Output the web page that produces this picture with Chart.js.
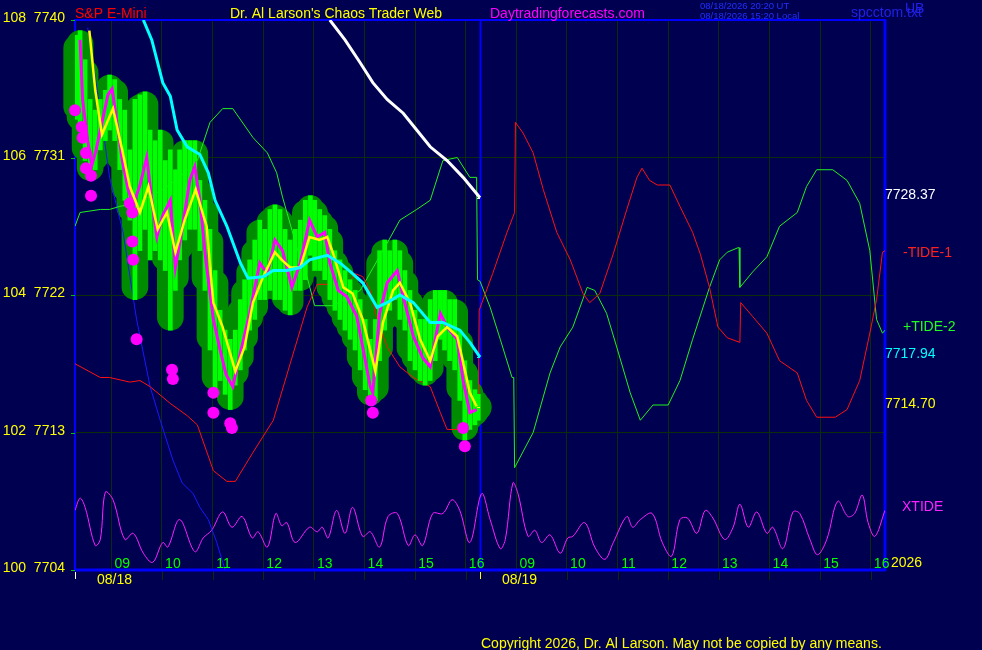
<!DOCTYPE html>
<html>
<head>
<meta charset="utf-8">
<title>S&amp;P E-Mini</title>
<script src="https://cdn.jsdelivr.net/npm/chart.js@4.4.0/dist/chart.umd.min.js"></script>
<style>
  html, body { margin: 0; padding: 0; background: #000050; }
  canvas { display: block; }
</style>
</head>
<body>
<canvas id="myChart" width="982" height="650" style="width:982px;height:650px"></canvas>
<script>
// x values are minutes from the 08:17 session open of 08/18 (second session starts at 480)
const hourLabels = ['09', '10', '11', '12', '13', '14', '15', '16'];
const dayLabels = ['08/18', '08/19'];
const indexLabels = ['100', '102', '104', '106', '108'];
const priceLevels = [7704, 7713, 7722, 7731, 7740];

// high / low bars of the first session
const barTime = [2,6,12,18,24,30,36,41,47,53, 59,65,71,77,83,89,95,101,107,113,
  119,124,130,136,142,148,154,160,166,172, 178,184,190,196,201,207,213,219,225,231,
  237,243,249,255,261,267,273,279,284,290, 296,302,308,314,320,326,332,338,344,350,
  356,361,367,373,379,385,391,397,403,409, 415,421,427,433,438,444,450,456,462,468, 474,478];
const barHigh = [7739.0,7739.3,7737.4,7734.8,7734.1,7734.8,7735.4,7736.4,7736.1,7734.8,
  7734.1,7731.5,7734.8,7735.1,7735.3,7732.8,7732.1,7732.8,7730.8,7731.5,
  7730.2,7731.5,7732.1,7732.1,7732.1,7729.5,7728.2,7726.3,7723.6,7721.0,
  7719.7,7719.1,7719.7,7721.7,7723.0,7724.3,7725.6,7726.9,7726.3,7727.6,
  7727.9,7727.6,7726.3,7725.6,7726.3,7726.9,7728.2,7728.5,7728.2,7727.6,
  7727.2,7726.3,7724.9,7724.3,7723.6,7723.0,7722.3,7721.7,7720.4,7719.1,
  7720.4,7724.9,7725.6,7724.9,7725.6,7724.9,7723.6,7722.3,7721.0,7720.4,
  7720.4,7721.7,7722.3,7722.3,7722.3,7721.7,7721.7,7719.7,7717.7,7716.4, 7715.8,7715.5];
const barLow = [7733.5,7732.8,7730.8,7729.5,7730.2,7731.5,7732.1,7732.8,7732.1,7730.2,
  7728.2,7726.9,7721.7,7724.9,7726.3,7724.3,7724.9,7724.3,7723.6,7719.7,
  7722.3,7724.3,7725.6,7726.3,7726.3,7724.9,7722.3,7718.4,7715.8,7716.4,
  7715.5,7714.5,7716.1,7717.1,7718.4,7719.7,7720.4,7721.7,7721.7,7722.3,
  7721.7,7721.7,7721.0,7720.7,7722.3,7722.3,7723.0,7724.6,7723.6,7723.6,
  7723.0,7721.7,7721.0,7720.4,7719.7,7719.1,7718.4,7717.1,7715.8,7714.8,
  7715.1,7717.7,7719.7,7721.0,7721.7,7720.4,7719.7,7717.7,7717.1,7716.4,
  7716.1,7716.4,7717.7,7719.1,7718.4,7717.7,7717.1,7715.1,7712.5,7713.2, 7713.5,7713.8];

// closing price
const closeTime = [6,9,15,20,25,30,34,39,44,51, 56,63,69,77,85,91,97,104,113,119,
  127,136,142,148,155,164,172,179,187,196, 207,219,228,237,246,257,267,278,287,296,
  302,312,322,334,341,350,353,361,370,382, 389,401,412,421,427,433,441,453,460,468, 476];
const closePrice = [7738.7,7734.8,7732.1,7730.5,7731.5,7732.8,7733.8,7735.1,7735.5,7732.8,
  7730.8,7728.9,7727.9,7729.2,7731.0,7728.2,7725.8,7727.2,7728.2,7723.8,
  7726.3,7729.5,7730.4,7728.2,7724.3,7720.4,7718.4,7716.8,7716.0,7718.2,
  7720.8,7724.1,7723.4,7725.6,7724.9,7722.5,7724.1,7726.9,7725.8,7726.1,
  7724.1,7722.3,7721.9,7720.6,7718.6,7716.0,7715.6,7720.8,7722.8,7723.6,
  7721.9,7719.3,7717.9,7717.3,7719.1,7720.8,7719.9,7719.1,7716.4,7714.3, 7714.5];

// fast average (yellow)
const fastTime = [17,24,32,45,56,65,77,87,98,109, 119,130,143,156,164,175,190,201,211,223,
  237,245,255,267,278,290,299,306,318,329, 341,356,365,377,385,397,409,421,430,441, 453,460,468,476];
const fastPrice = [7739.3,7735.4,7732.5,7734.2,7731.5,7729.1,7727.4,7729.1,7726.3,7727.4,
  7724.8,7726.9,7728.9,7726.5,7721.5,7719.9,7717.0,7718.6,7721.5,7723.2,
  7724.8,7724.3,7723.8,7723.8,7725.8,7725.6,7725.8,7724.7,7722.5,7722.1,
  7720.4,7717.0,7720.2,7722.3,7722.8,7721.5,7719.1,7717.7,7719.3,7719.9, 7719.3,7717.6,7715.6,7714.7];

// slow average (cyan)
const slowTime = [81,91,104,113,121,133,148,158,166,180, 196,205,223,235,251,267,278,299,314,329,
  341,358,370,385,401,421,436,456,468,480];
const slowPrice = [7740.0,7738.7,7735.9,7735.0,7732.8,7731.7,7731.2,7730.0,7728.2,7726.5,
  7724.1,7723.1,7723.2,7723.6,7723.6,7723.8,7724.3,7724.6,7724.1,7723.4,
  7722.8,7721.2,7721.5,7722.0,7721.5,7720.2,7720.2,7719.7,7718.9,7717.94];

// white line
const whiteTime = [302,320,338,353,370,389,405,421,441,460,480];
const whitePrice = [7740.0,7738.7,7737.2,7735.9,7734.8,7733.9,7732.8,7731.7,7730.8,7729.7,7728.37];

// +TIDE-2 (green)
const tide2Time = [0,6,30,41,53,73,104,124,145,160, 175,187,211,228,239,246,263,275,284,306,
  338,370,385,405,421,436,453,468,476,477, 480,492,504,518,520,521,543,563,575,590,
  607,616,630,642,658,670,685,703,717,732, 752,764,773,786,787,788,803,820,835,856,
  867,879,898,915,930,942,950,957,960];
const tide2Price = [7726.5,7727.4,7727.6,7727.6,7727.8,7728.0,7728.9,7729.7,7730.8,7733.3,
  7734.2,7734.2,7732.3,7731.3,7730.0,7728.4,7725.1,7723.2,7721.3,7721.3,
  7722.3,7725.4,7726.9,7727.6,7728.2,7730.8,7731.0,7729.7,7729.7,7723.0,
  7722.9,7721.2,7719.1,7716.6,7716.6,7710.7,7713.0,7716.9,7718.6,7719.9,
  7722.5,7722.3,7720.8,7718.6,7715.6,7713.8,7714.8,7714.8,7716.4,7719.1,
  7722.5,7724.3,7724.8,7725.1,7725.1,7722.5,7723.5,7724.5,7726.5,7727.4,
  7729.1,7730.2,7730.2,7729.5,7728.0,7724.9,7720.4,7719.5,7719.7];

// -TIDE-1 (red)
const tide1Time = [0,30,41,65,77,89,113,133,145,164, 180,190,211,235,255,275,287,324,332,341,
  350,358,370,385,401,421,433,441,453,468, 478,479,495,512,521,522,531,543,555,571,
  587,602,610,622,638,654,666,672,681,690, 705,717,732,741,752,762,773,788,789,803,
  820,835,856,867,879,901,915,930,942,950, 957,960];
const tide1Price = [7717.5,7716.6,7716.6,7716.3,7716.4,7716.0,7714.9,7714.1,7713.5,7710.5,
  7709.8,7709.8,7711.7,7713.8,7717.5,7721.2,7722.7,7722.7,7723.4,7723.2,
  7722.3,7720.4,7718.6,7717.3,7716.6,7716.0,7714.3,7713.2,7713.2,7714.3,
  7714.5,7721.0,7723.4,7726.1,7727.4,7733.3,7732.6,7731.3,7728.9,7726.1,
  7724.3,7722.1,7721.5,7722.1,7724.7,7727.6,7729.7,7730.3,7729.5,7729.2,
  7729.2,7727.8,7726.1,7724.7,7722.5,7719.9,7719.2,7718.9,7721.5,7720.6,
  7719.5,7717.7,7716.9,7715.1,7714.0,7714.0,7714.5,7716.4,7719.5,7721.7, 7724.8,7724.9];

// blue line
const blueTime = [15,30,41,57,73,89,101,116,127,140,148,158,168,174,178];
const bluePrice = [7739.5,7734.1,7729.7,7726.1,7720.4,7716.0,7713.8,7711.2,7709.7,7709.0,7708.1,7707.3,7705.8,7704.7,7704.0];

// XTIDE (magenta, bottom)
const xtideTime = [0,6,12,24,30,36,45,59,69,81, 92,104,110,124,142,152,162,175,186,198,
  210,217,228,238,245,251,261,278,287,293, 300,310,320,329,341,350,361,371,382,395,
  403,412,424,436,447,456,468,482,492,504, 510,519,525,537,545,553,563,575,584,590,
  604,616,628,638,654,661,670,684,696,707, 717,726,737,747,756,770,780,788,798,808,
  820,827,839,851,859,871,880,891,904,916, 924,933,940,948,960];
const xtidePrice = [7707.9,7708.7,7708.1,7705.6,7706.0,7709.1,7708.6,7706.0,7706.4,7705.1,
  7704.5,7705.8,7705.5,7707.3,7705.2,7706.1,7706.6,7707.8,7706.8,7707.5,
  7706.1,7706.5,7705.5,7707.7,7706.9,7707.1,7705.8,7706.8,7706.5,7706.8,
  7706.1,7707.9,7706.4,7708.1,7706.2,7706.5,7705.5,7707.5,7707.7,7705.6,
  7706.3,7705.6,7707.7,7707.7,7708.6,7707.9,7705.8,7709.0,7707.3,7705.4,
  7706.0,7709.7,7709.0,7706.2,7706.6,7705.8,7706.3,7705.1,7706.1,7706.2,
  7707.1,7705.5,7704.7,7705.8,7707.5,7706.8,7707.3,7707.7,7705.8,7704.9,
  7707.3,7707.4,7706.4,7707.9,7707.4,7706.0,7706.8,7708.3,7706.8,7707.8,
  7706.4,7706.8,7705.4,7707.8,7707.7,7706.0,7705.0,7706.0,7708.5,7707.5,
  7707.7,7708.9,7707.1,7706.2,7707.9];

// magenta low markers
const dotTime = [0,8,9,13,13,19,19,65,68,68,69,73,115,116,164,164,184,186,351,353,460,462];
const dotPrice = [7734.1,7733.0,7732.3,7731.3,7730.3,7729.8,7728.5,7728.0,7727.4,7725.5,7724.3,
  7719.1,7717.1,7716.5,7715.6,7714.3,7713.6,7713.3,7715.1,7714.3,7713.3,7712.1];

// price readouts at the right
const readoutValues = [7728.37, 7717.94, 7714.70];
const readoutColors = ['#ffffff', '#00ffff', '#ffff00'];

const SESSION = 480;      // minutes per session
const FIRST_HOUR = 43;    // 09:00 is 43 minutes after the open
const gridTimes = [];
[0, 1].forEach(d => hourLabels.forEach((h, i) => gridTimes.push(d * SESSION + FIRST_HOUR + 60 * i)));

const pts = (xs, ys) => xs.map((x, i) => ({x: x, y: ys[i]}));
const bars = barTime.map((t, i) => ({x: t, y: [barLow[i], barHigh[i]]}));

const GRID = '#0a2c0a';
const FONT = '14px "Liberation Sans", Arial, sans-serif';

function lineSet(data, color, width, order, extra) {
    return Object.assign({
        type: 'line', data: data, borderColor: color, borderWidth: width,
        pointRadius: 0, tension: 0, order: order
    }, extra || {});
}

const overlay = {
    id: 'overlay',
    beforeDatasetsDraw(chart) {
        const {ctx, chartArea: a, scales: {x}} = chart;
        ctx.save();
        // grid stubs under the frame
        ctx.strokeStyle = GRID;
        ctx.lineWidth = 1;
        gridTimes.forEach(t => {
            const px = Math.round(x.getPixelForValue(t)) + 0.5;
            ctx.beginPath(); ctx.moveTo(px, a.bottom); ctx.lineTo(px, a.bottom + 10); ctx.stroke();
        });
        // frame
        ctx.strokeStyle = '#0000ff';
        ctx.lineWidth = 2;
        ctx.strokeRect(a.left, a.top, a.right - a.left, a.bottom - a.top);
        ctx.lineWidth = 3;
        ctx.beginPath(); ctx.moveTo(a.right, a.top); ctx.lineTo(a.right, a.bottom + 1); ctx.stroke();
        ctx.beginPath(); ctx.moveTo(a.left, a.bottom); ctx.lineTo(a.right, a.bottom); ctx.stroke();
        // session divider
        const dx = Math.round(x.getPixelForValue(SESSION)) + 0.5;
        ctx.lineWidth = 2;
        ctx.beginPath(); ctx.moveTo(dx, a.top); ctx.lineTo(dx, a.bottom); ctx.stroke();
        ctx.restore();
    },
    afterDraw(chart) {
        const {ctx, chartArea: a, scales: {x, y}} = chart;
        ctx.save();
        ctx.font = FONT;
        ctx.textBaseline = 'alphabetic';

        // left axis: index and price
        priceLevels.forEach((p, i) => {
            const py = y.getPixelForValue(p);
            ctx.fillStyle = '#ffff00';
            ctx.textAlign = 'right';
            ctx.fillText(indexLabels[i] + '  ' + p, 65, py + 2);
            ctx.fillStyle = '#00c000';
            ctx.fillRect(a.left - 4, Math.round(py), 4, 1);
        });

        // hour labels
        ctx.textAlign = 'center';
        ctx.fillStyle = '#00ff00';
        [0, 1].forEach(d => hourLabels.forEach((h, i) => {
            const px = x.getPixelForValue(d * SESSION + FIRST_HOUR + 60 * i);
            ctx.fillText(h, px + 11, a.bottom - 2);
        }));

        // session dates and open ticks
        ctx.textAlign = 'left';
        dayLabels.forEach((lab, d) => {
            const px = x.getPixelForValue(d * SESSION);
            ctx.fillStyle = '#ffff00';
            ctx.fillText(lab, px + 22, a.bottom + 14);
            ctx.fillStyle = d ? '#ffff00' : '#ffffff';
            ctx.fillRect(Math.round(px), a.bottom + 2, 1, 7);
        });

        // readouts on the divider and at the right
        const dx = x.getPixelForValue(SESSION);
        readoutValues.forEach((v, i) => {
            const py = y.getPixelForValue(v);
            ctx.fillStyle = readoutColors[i];
            ctx.fillRect(Math.round(dx) - 3, Math.round(py), 3, 1);
            ctx.fillText(v.toFixed(2), a.right, py + 1);
        });
        ctx.fillStyle = '#ff2020';
        ctx.fillText('-TIDE-1', 903, 257);
        ctx.fillStyle = '#20ff20';
        ctx.fillText('+TIDE-2', 903, 331);
        ctx.fillStyle = '#ff20ff';
        ctx.fillText('XTIDE', 902, 511);
        ctx.fillStyle = '#ffff00';
        ctx.fillText('2026', 891, 567);

        // header
        ctx.fillStyle = '#ff0000';
        ctx.fillText('S&P E-Mini', 75, 18);
        ctx.fillStyle = '#ffff00';
        ctx.fillText("Dr. Al Larson's Chaos Trader Web", 230, 18);
        ctx.fillStyle = '#ff00ff';
        ctx.fillText('Daytradingforecasts.com', 490, 18);
        ctx.fillStyle = '#2030ff';
        ctx.font = '9.5px "Liberation Sans", Arial, sans-serif';
        ctx.fillText('08/18/2026 20:20 UT', 700, 9);
        ctx.fillText('08/18/2026 15:20 Local', 700, 19);
        ctx.font = FONT;
        ctx.fillStyle = '#2020e8';
        ctx.fillText('spcctom.txt', 851, 17);
        ctx.fillText('UB', 905, 13);

        // footer
        ctx.fillStyle = '#ffff00';
        ctx.fillText('Copyright 2026, Dr. Al Larson. May not be copied by any means.', 481, 648);
        ctx.restore();
    }
};

const ctx = document.getElementById('myChart').getContext('2d');

const chart = new Chart(ctx, {
    type: 'bar',
    data: {
        datasets: [
            // glow around the price bars
            {type: 'bar', data: bars, backgroundColor: '#008c00', barThickness: 26,
             borderRadius: 13, borderSkipped: false, grouped: false, clip: false, order: 20},
            lineSet(pts(tide1Time, tide1Price), '#ff1010', 1, 12),
            lineSet(pts(tide2Time, tide2Price), '#20f020', 1, 12),
            lineSet(pts(blueTime, bluePrice), '#1818ff', 1, 12),
            lineSet(pts(xtideTime, xtidePrice), '#ff20ff', 1, 12, {tension: 0.35}),
            // high-low bars
            {type: 'bar', data: bars, backgroundColor: '#00ff00', barThickness: 4,
             grouped: false, order: 10},
            lineSet(pts(closeTime, closePrice), '#ff00ff', 3, 8),
            lineSet(pts(dotTime, dotPrice), '#ff00ff', 0, 7,
                {showLine: false, pointRadius: 6, pointBackgroundColor: '#ff00ff',
                 pointBorderWidth: 0, clip: false}),
            lineSet(pts(fastTime, fastPrice), '#ffff00', 2.5, 6),
            lineSet(pts(slowTime, slowPrice), '#00ffff', 3, 5),
            lineSet(pts(whiteTime, whitePrice), '#ffffff', 3, 4)
        ]
    },
    options: {
        responsive: false,
        animation: false,
        layout: {padding: {left: 75, top: 20, right: 97, bottom: 80}},
        plugins: {legend: {display: false}, tooltip: {enabled: false}},
        scales: {
            x: {
                type: 'linear', min: 0, max: 2 * SESSION, offset: false,
                grid: {color: GRID, drawTicks: false, offset: false},
                border: {display: false},
                ticks: {display: false},
                afterBuildTicks: s => { s.ticks = gridTimes.map(v => ({value: v})); }
            },
            y: {
                type: 'linear', min: priceLevels[0], max: priceLevels[priceLevels.length - 1],
                beginAtZero: false,
                grid: {color: GRID, drawTicks: false},
                border: {display: false},
                ticks: {display: false},
                afterBuildTicks: s => { s.ticks = priceLevels.map(v => ({value: v})); }
            }
        }
    },
    plugins: [overlay]
});
</script>
</body>
</html>
